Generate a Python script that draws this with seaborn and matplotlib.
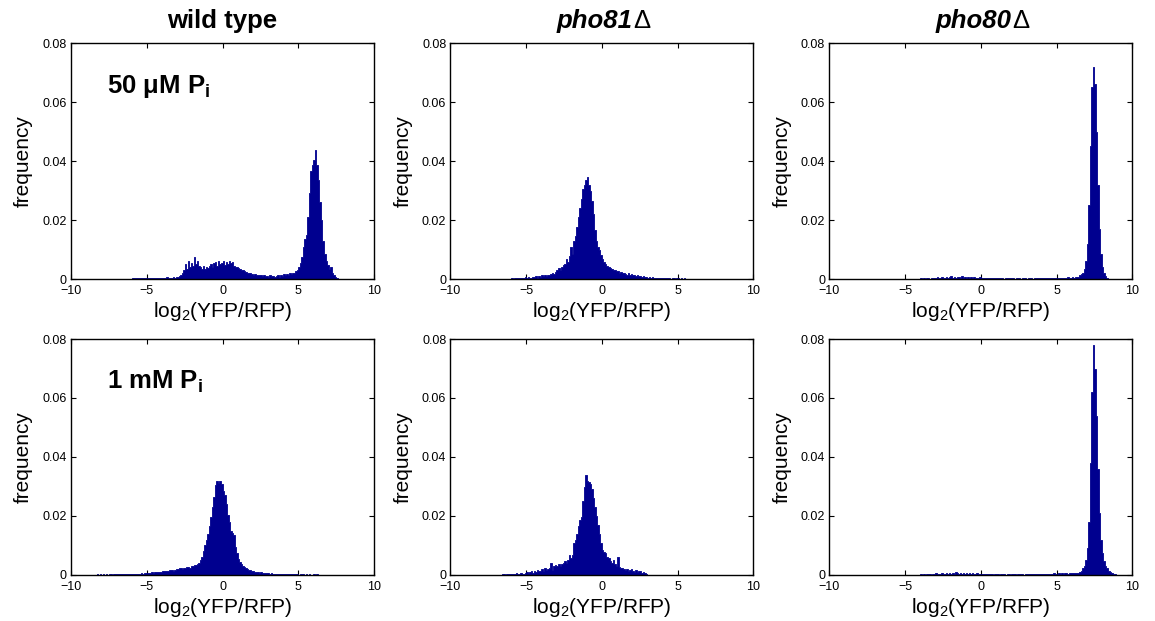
import numpy as np
import pandas as pd
import matplotlib
matplotlib.use("Agg")
import matplotlib.pyplot as plt
import seaborn as sns

# histogram heights, bin width 0.1, first bin starts at *_start
BIN = 0.1

wt_50_start = -6.0
wt_50 = [0.0003, 0.0002, 0.0003, 0.0002, 0.0003, 0.0002, 0.0002, 0.0003, 0.0002, 0.0003,
         0.0002, 0.0003, 0.0004, 0.0002, 0.0003, 0.0002, 0.0003, 0.0004, 0.0002, 0.0003,
         0.0005, 0.0003, 0.0004, 0.0006, 0.0003, 0.0005, 0.0004, 0.0006, 0.0005, 0.0007,
         0.0008, 0.0010, 0.0015, 0.0020, 0.0030,
         0.0050, 0.0035, 0.0060, 0.0040, 0.0055,
         0.0045, 0.0075, 0.0050, 0.0060, 0.0045,
         0.0040, 0.0035, 0.0045, 0.0035, 0.0040,
         0.0038, 0.0045, 0.0050, 0.0040, 0.0055,
         0.0058, 0.0045, 0.0060, 0.0050, 0.0055,
         0.0060, 0.0048, 0.0058, 0.0050, 0.0060,
         0.0055, 0.0058, 0.0045, 0.0040, 0.0042,
         0.0038, 0.0035, 0.0032, 0.0030, 0.0028,
         0.0025, 0.0022, 0.0020, 0.0022, 0.0018,
         0.0015, 0.0016, 0.0013, 0.0015, 0.0012,
         0.0012, 0.0010, 0.0012, 0.0009, 0.0011,
         0.0008, 0.0013, 0.0009, 0.0010, 0.0007,
         0.0010, 0.0012, 0.0008, 0.0015, 0.0011,
         0.0016, 0.0012, 0.0018, 0.0014, 0.0019,
         0.0017, 0.0020, 0.0022, 0.0026, 0.0030,
         0.0042, 0.0055, 0.0075, 0.0110, 0.0135,
         0.0150, 0.0210, 0.0290, 0.0365, 0.0385,
         0.0405, 0.0438, 0.0385, 0.0335, 0.0260,
         0.0200, 0.0130, 0.0085, 0.0060, 0.0048,
         0.0035, 0.0042, 0.0020, 0.0012, 0.0008,
         0.0003]

pho81_50_start = -6.0
pho81_50 = [0.0003, 0.0000, 0.0004, 0.0002, 0.0003, 0.0005, 0.0002, 0.0004, 0.0003, 0.0006,
            0.0004, 0.0007, 0.0005, 0.0003, 0.0008, 0.0006, 0.0009, 0.0005, 0.0010, 0.0007,
            0.0012, 0.0009, 0.0014, 0.0011, 0.0015,
            0.0013, 0.0018, 0.0022, 0.0017, 0.0025,
            0.0032, 0.0038, 0.0030, 0.0042, 0.0046,
            0.0052, 0.0068, 0.0058, 0.0078, 0.0110,
            0.0085, 0.0130, 0.0145, 0.0175, 0.0210,
            0.0240, 0.0270, 0.0305, 0.0320, 0.0335,
            0.0345, 0.0320, 0.0300, 0.0265, 0.0220,
            0.0165, 0.0130, 0.0110, 0.0098, 0.0080,
            0.0068, 0.0058, 0.0050, 0.0045, 0.0042,
            0.0038, 0.0034, 0.0030, 0.0032, 0.0028,
            0.0026, 0.0022, 0.0024, 0.0019, 0.0021,
            0.0018, 0.0015, 0.0019, 0.0014, 0.0016,
            0.0013, 0.0015, 0.0010, 0.0012, 0.0009,
            0.0010, 0.0007, 0.0009, 0.0006, 0.0008,
            0.0005, 0.0007, 0.0004, 0.0006, 0.0003, 0.0005, 0.0004, 0.0003, 0.0005, 0.0002,
            0.0003, 0.0002, 0.0004, 0.0002, 0.0003, 0.0001, 0.0003, 0.0002, 0.0001, 0.0002,
            0.0004, 0.0001, 0.0003, 0.0001, 0.0002, 0.0001]

pho80_50_start = -4.0
pho80_50 = [0.0002, 0.0000, 0.0003, 0.0001, 0.0004, 0.0002, 0.0000, 0.0003, 0.0005, 0.0002,
            0.0003, 0.0006, 0.0002, 0.0004, 0.0007, 0.0003, 0.0005, 0.0008, 0.0004, 0.0006,
            0.0009, 0.0005, 0.0007, 0.0004, 0.0008, 0.0006, 0.0005, 0.0009, 0.0004, 0.0007,
            0.0005, 0.0008, 0.0003, 0.0006, 0.0004, 0.0007, 0.0003, 0.0005, 0.0004, 0.0006,
            0.0004, 0.0003, 0.0005, 0.0002, 0.0004, 0.0003, 0.0002, 0.0004, 0.0003, 0.0002,
            0.0003, 0.0002, 0.0004, 0.0002, 0.0003, 0.0001, 0.0003, 0.0002, 0.0003, 0.0002,
            0.0002, 0.0003, 0.0001, 0.0002, 0.0003, 0.0002, 0.0001, 0.0002, 0.0003, 0.0002,
            0.0001, 0.0002, 0.0002, 0.0003, 0.0001, 0.0002, 0.0002, 0.0003, 0.0002, 0.0003,
            0.0002, 0.0003, 0.0002, 0.0004, 0.0003, 0.0002, 0.0003, 0.0004, 0.0003, 0.0004,
            0.0003, 0.0004, 0.0005, 0.0003, 0.0004, 0.0005, 0.0004, 0.0006, 0.0005, 0.0004,
            0.0006, 0.0005, 0.0007, 0.0006, 0.0008,
            0.0012, 0.0016, 0.0022, 0.0035, 0.0060, 0.0120, 0.0250, 0.0450, 0.0650, 0.0720,
            0.0660, 0.0500, 0.0320, 0.0170, 0.0085, 0.0040, 0.0020, 0.0010, 0.0005]

wt_1_start = -8.3
wt_1 = [0.0002, 0.0001, 0.0002, 0.0001, 0.0002, 0.0001, 0.0002, 0.0001, 0.0002, 0.0002,
        0.0001, 0.0002, 0.0003, 0.0002, 0.0002, 0.0003, 0.0002, 0.0003, 0.0002, 0.0003,
        0.0004, 0.0002, 0.0003,
        0.0004, 0.0003, 0.0004, 0.0005, 0.0004, 0.0005, 0.0006, 0.0005, 0.0006, 0.0007,
        0.0008, 0.0007, 0.0008, 0.0009, 0.0008, 0.0010, 0.0009, 0.0011, 0.0010, 0.0011,
        0.0012, 0.0013, 0.0012, 0.0015, 0.0014, 0.0016, 0.0017, 0.0015, 0.0018, 0.0020,
        0.0021, 0.0022, 0.0024, 0.0021, 0.0025, 0.0023, 0.0026, 0.0027, 0.0025, 0.0029,
        0.0032, 0.0035, 0.0033, 0.0036, 0.0040,
        0.0052, 0.0062, 0.0082, 0.0100, 0.0118,
        0.0140, 0.0165, 0.0195, 0.0230, 0.0265,
        0.0305, 0.0318, 0.0312, 0.0320, 0.0308,
        0.0285, 0.0272, 0.0240, 0.0205, 0.0180,
        0.0150, 0.0142, 0.0135, 0.0095, 0.0075,
        0.0055, 0.0045, 0.0036, 0.0030, 0.0026,
        0.0024, 0.0021, 0.0018, 0.0016, 0.0013,
        0.0012, 0.0010, 0.0011, 0.0009, 0.0008, 0.0009, 0.0007, 0.0008, 0.0006, 0.0007,
        0.0006, 0.0005, 0.0006, 0.0004, 0.0005, 0.0004, 0.0005, 0.0003, 0.0004, 0.0003,
        0.0004, 0.0003, 0.0002, 0.0003, 0.0002, 0.0003, 0.0002, 0.0002, 0.0003, 0.0002,
        0.0001, 0.0002, 0.0003, 0.0002, 0.0001, 0.0002, 0.0001, 0.0002, 0.0001, 0.0001,
        0.0002, 0.0001, 0.0002]

pho81_1_start = -6.6
pho81_1 = [0.0002, 0.0004, 0.0000, 0.0003, 0.0002, 0.0004,
           0.0003, 0.0005, 0.0002, 0.0006, 0.0004, 0.0003, 0.0007, 0.0005, 0.0004, 0.0008,
           0.0011, 0.0006, 0.0009, 0.0013, 0.0007, 0.0015, 0.0010, 0.0017, 0.0012, 0.0014,
           0.0020, 0.0012, 0.0022, 0.0016, 0.0019,
           0.0025, 0.0040, 0.0018, 0.0030, 0.0034,
           0.0032, 0.0038, 0.0030, 0.0036, 0.0040,
           0.0048, 0.0042, 0.0052, 0.0068, 0.0056,
           0.0068, 0.0107, 0.0118, 0.0140, 0.0165,
           0.0185, 0.0197, 0.0250, 0.0298, 0.0338,
           0.0320, 0.0315, 0.0310, 0.0290, 0.0260,
           0.0230, 0.0200, 0.0170, 0.0140, 0.0110,
           0.0084, 0.0078, 0.0073, 0.0062, 0.0056,
           0.0048, 0.0042, 0.0050, 0.0036, 0.0030,
           0.0060, 0.0028, 0.0022, 0.0025, 0.0020,
           0.0018, 0.0021, 0.0015, 0.0017, 0.0019,
           0.0014, 0.0011, 0.0016, 0.0009, 0.0012,
           0.0013, 0.0008, 0.0011, 0.0007, 0.0004]

pho80_1_start = -4.0
pho80_1 = [0.0003, 0.0001, 0.0004, 0.0000, 0.0003, 0.0002, 0.0005, 0.0001, 0.0004, 0.0003,
           0.0006, 0.0002, 0.0005, 0.0003, 0.0007, 0.0004, 0.0003, 0.0006, 0.0004, 0.0008,
           0.0005, 0.0007, 0.0004, 0.0009, 0.0006, 0.0005, 0.0008, 0.0004, 0.0007, 0.0005,
           0.0006, 0.0004, 0.0008, 0.0003, 0.0006, 0.0005, 0.0004, 0.0007, 0.0003, 0.0005,
           0.0003, 0.0004, 0.0002, 0.0003, 0.0002, 0.0004, 0.0002, 0.0003, 0.0001, 0.0002,
           0.0003, 0.0002, 0.0001, 0.0003, 0.0002, 0.0002, 0.0001, 0.0002, 0.0003, 0.0001,
           0.0002, 0.0003, 0.0002, 0.0001, 0.0002, 0.0003, 0.0002, 0.0002, 0.0001, 0.0003,
           0.0002, 0.0003, 0.0002, 0.0003, 0.0004, 0.0002, 0.0003, 0.0002, 0.0004, 0.0003,
           0.0003, 0.0004, 0.0003, 0.0005, 0.0004, 0.0003, 0.0005, 0.0004, 0.0006, 0.0004,
           0.0005, 0.0006, 0.0004, 0.0007, 0.0005, 0.0006, 0.0007, 0.0005, 0.0008, 0.0006,
           0.0007, 0.0006, 0.0008, 0.0007,
           0.0008, 0.0011, 0.0015, 0.0022, 0.0032, 0.0050, 0.0090, 0.0180, 0.0380, 0.0620,
           0.0780, 0.0700, 0.0540, 0.0360, 0.0210, 0.0120, 0.0075, 0.0048, 0.0032, 0.0022,
           0.0015, 0.0010, 0.0007, 0.0005, 0.0003]

col_titles = ["wild type", "pho81", "pho80"]
row_labels = ["50 μM P$_\\mathbf{i}$", "1 mM P$_\\mathbf{i}$"]
panels = [[(wt_50_start, wt_50), (pho81_50_start, pho81_50), (pho80_50_start, pho80_50)],
          [(wt_1_start, wt_1), (pho81_1_start, pho81_1), (pho80_1_start, pho80_1)]]
xticks = [-10, -5, 0, 5, 10]
yticks = [0, 0.02, 0.04, 0.06, 0.08]
ytick_labels = ["0", "0.02", "0.04", "0.06", "0.08"]

BAR = "#00008F"

sns.set_style("ticks")
plt.rcParams["font.family"] = ["Liberation Sans", "DejaVu Sans"]
plt.rcParams["mathtext.fontset"] = "custom"
plt.rcParams["mathtext.rm"] = "Liberation Sans"
plt.rcParams["mathtext.it"] = "Liberation Sans:italic"
plt.rcParams["mathtext.bf"] = "Liberation Sans:bold"
plt.rcParams["xtick.direction"] = "in"
plt.rcParams["ytick.direction"] = "in"
for key in ["text.color", "axes.labelcolor", "xtick.color", "ytick.color"]:
    plt.rcParams[key] = "black"

fig = plt.figure(figsize=(11.55, 6.21), dpi=100)
lefts = [0.0615, 0.390, 0.718]
bottoms = [0.5507, 0.0741]
W, H = 0.2623, 0.380

for r in range(2):
    for c in range(3):
        ax = fig.add_axes([lefts[c], bottoms[r], W, H])
        start, heights = panels[r][c]
        n = len(heights)
        edges = [start + BIN * i for i in range(n + 1)]
        df = pd.DataFrame({"x": [e + BIN / 2 for e in edges[:-1]], "freq": heights})
        sns.histplot(data=df, x="x", weights="freq", bins=edges, ax=ax,
                     element="step", fill=True, color=BAR, alpha=1, linewidth=0.6)
        ax.set_xlim(-10, 10)
        ax.set_ylim(0, 0.08)
        ax.set_xticks(xticks)
        ax.set_yticks(yticks)
        ax.set_yticklabels(ytick_labels)
        ax.tick_params(labelsize=9, length=3.5, width=0.8, top=True, right=True)
        ax.tick_params(axis="x", pad=4)
        ax.tick_params(axis="y", pad=3)
        for s in ax.spines.values():
            s.set_linewidth(1.0)
            s.set_color("black")
        ax.set_xlabel("log$_2$(YFP/RFP)", fontsize=15, va="top")
        ax.xaxis.set_label_coords(0.5, -0.09)
        ax.set_ylabel("frequency", fontsize=15)
        ax.yaxis.set_label_coords(-0.125, 0.5)
        if r == 0:
            if c == 0:
                ax.text(0.5, 1.065, col_titles[c], transform=ax.transAxes, ha="center",
                        va="baseline", fontsize=18.5, fontweight="bold")
            else:
                ax.text(0.60, 1.065, col_titles[c], transform=ax.transAxes, ha="right",
                        va="baseline", fontsize=18.5, fontweight="bold", fontstyle="italic")
                ax.text(0.605, 1.065, "Δ", transform=ax.transAxes, ha="left",
                        va="baseline", fontsize=18.5)
        if c == 0:
            ax.text(0.12, 0.79, row_labels[r], transform=ax.transAxes, ha="left",
                    va="baseline", fontsize=18.5, fontweight="bold")

fig.savefig("out.png", dpi=100)
